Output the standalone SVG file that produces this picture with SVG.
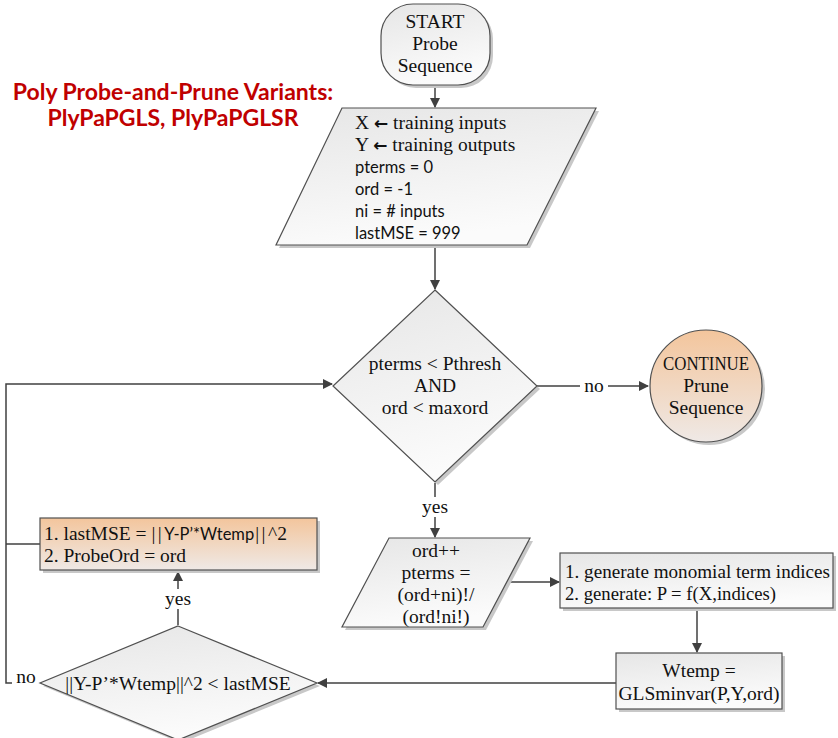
<svg xmlns="http://www.w3.org/2000/svg" width="838" height="738" viewBox="0 0 838 738">
  <defs>
    <linearGradient id="gray" x1="0" y1="0" x2="0.3" y2="1">
      <stop offset="0" stop-color="#e6e6e6"/>
      <stop offset="1" stop-color="#fbfbfb"/>
    </linearGradient>
    <linearGradient id="orange" x1="0" y1="0" x2="0" y2="1">
      <stop offset="0" stop-color="#f3c59c"/>
      <stop offset="1" stop-color="#efe9e6"/>
    </linearGradient>
    <marker id="arr" viewBox="0 0 10 10" refX="9" refY="5" markerWidth="10" markerHeight="10" markerUnits="userSpaceOnUse" orient="auto">
      <path d="M0,0 L10,5 L0,10 z" fill="#404040"/>
    </marker>
  </defs>
  <style>
    .shape { stroke: #505050; stroke-width: 1.2; }
    .shadow { fill: #c8c8c8; stroke: none; }
    .serif { font-family: "Liberation Serif", "DejaVu Serif", serif; font-size: 19.5px; fill: #111; }
    .sans { font-family: Lato, "Liberation Sans", sans-serif; font-size: 16.5px; fill: #111; }
    .arrowglyph { font-family: "DejaVu Sans", sans-serif; font-size: 17px; font-weight: bold; }
    .title { font-family: Lato, "Liberation Sans", sans-serif; font-size: 23px; font-weight: bold; fill: #c00000; }
    .line { stroke: #404040; stroke-width: 1.5; fill: none; }
    .mid { text-anchor: middle; }
  </style>

  <rect width="838" height="738" fill="#ffffff"/>

  <!-- heading -->
  <g id="title">
    <text class="title mid" x="173" y="100">Poly Probe-and-Prune Variants:</text>
    <text class="title mid" x="173" y="126">PlyPaPGLS, PlyPaPGLSR</text>
  </g>

  <!-- connectors -->
  <g id="connectors">
    <line class="line" x1="435" y1="86" x2="435" y2="107" marker-end="url(#arr)"/>
    <line class="line" x1="435" y1="246" x2="435" y2="289" marker-end="url(#arr)"/>
    <line class="line" x1="537" y1="386" x2="648" y2="386" marker-end="url(#arr)"/>
    <line class="line" x1="435" y1="483" x2="435" y2="537" marker-end="url(#arr)"/>
    <line class="line" x1="507" y1="582" x2="559" y2="582" marker-end="url(#arr)"/>
    <line class="line" x1="697" y1="609" x2="697" y2="652" marker-end="url(#arr)"/>
    <line class="line" x1="616" y1="683" x2="318" y2="683" marker-end="url(#arr)"/>
    <line class="line" x1="178" y1="625" x2="178" y2="572" marker-end="url(#arr)"/>
    <polyline class="line" points="40,683 6,683 6,384 332,384" marker-end="url(#arr)"/>
    <line class="line" x1="6" y1="544" x2="40" y2="544"/>
    <!-- branch labels -->
    <rect x="580" y="376" width="28" height="18" fill="#fff"/>
    <text class="serif mid" x="594" y="392">no</text>
    <rect x="417" y="497" width="38" height="20" fill="#fff"/>
    <text class="serif mid" x="435" y="513">yes</text>
    <rect x="159" y="589" width="38" height="20" fill="#fff"/>
    <text class="serif mid" x="178" y="605">yes</text>
    <rect x="12" y="667" width="28" height="18" fill="#fff"/>
    <text class="serif mid" x="26" y="683">no</text>
  </g>

  <!-- start terminator -->
  <g id="start">
    <rect class="shadow" x="384" y="7" width="109" height="81" rx="32"/>
    <rect class="shape" x="381" y="4" width="109" height="81" rx="32" fill="url(#gray)"/>
    <text class="serif mid" x="435" y="28">START</text>
    <text class="serif mid" x="435" y="50">Probe</text>
    <text class="serif mid" x="435" y="72">Sequence</text>
  </g>

  <!-- initialisation input block -->
  <g id="init">
    <polygon class="shadow" points="345,111 599,111 530,248 279,248"/>
    <polygon class="shape" points="342,108 596,108 527,245 276,245" fill="url(#gray)"/>
    <text class="serif" x="355" y="129">X <tspan class="arrowglyph">←</tspan> training inputs</text>
    <text class="serif" x="355" y="151">Y <tspan class="arrowglyph">←</tspan> training outputs</text>
    <text class="sans" x="355" y="173">pterms = 0</text>
    <text class="sans" x="355" y="195">ord = -1</text>
    <text class="sans" x="355" y="217">ni = # inputs</text>
    <text class="sans" x="355" y="239">lastMSE = 999</text>
  </g>

  <!-- loop condition -->
  <g id="cond">
    <polygon class="shadow" points="438,293 540,389 438,485 336,389"/>
    <polygon class="shape" points="435,290 537,386 435,482 333,386" fill="url(#gray)"/>
    <text class="serif mid" x="435" y="370">pterms &lt; Pthresh</text>
    <text class="serif mid" x="435" y="392">AND</text>
    <text class="serif mid" x="435" y="414">ord &lt; maxord</text>
  </g>

  <!-- continue connector -->
  <g id="continue">
    <circle class="shadow" cx="709" cy="389" r="56"/>
    <circle class="shape" cx="706" cy="386" r="56" fill="url(#orange)"/>
    <text class="serif mid" x="706" y="370" textLength="86" lengthAdjust="spacingAndGlyphs">CONTINUE</text>
    <text class="serif mid" x="706" y="392">Prune</text>
    <text class="serif mid" x="706" y="414">Sequence</text>
  </g>

  <!-- order increment block -->
  <g id="incr">
    <polygon class="shadow" points="392,541 533,541 486,630 345,630"/>
    <polygon class="shape" points="389,538 530,538 483,627 342,627" fill="url(#gray)"/>
    <text class="serif mid" x="436" y="557">ord++</text>
    <text class="serif mid" x="436" y="579">pterms =</text>
    <text class="serif mid" x="436" y="601">(ord+ni)!/</text>
    <text class="serif mid" x="436" y="623">(ord!ni!)</text>
  </g>

  <!-- term generation -->
  <g id="generate">
    <rect class="shadow" x="563" y="556" width="273" height="55"/>
    <rect class="shape" x="560" y="553" width="273" height="55" fill="url(#gray)"/>
    <text class="serif" x="565" y="578" textLength="265" lengthAdjust="spacingAndGlyphs">1. generate monomial term indices</text>
    <text class="serif" x="565" y="600" textLength="211" lengthAdjust="spacingAndGlyphs">2. generate:  P = f(X,indices)</text>
  </g>

  <!-- weight solve -->
  <g id="wtemp">
    <rect class="shadow" x="619" y="656" width="166" height="56"/>
    <rect class="shape" x="616" y="653" width="166" height="56" fill="url(#gray)"/>
    <text class="serif mid" x="699" y="677">Wtemp =</text>
    <text class="serif mid" x="699" y="700">GLSminvar(P,Y,ord)</text>
  </g>

  <!-- error check -->
  <g id="check">
    <polygon class="shadow" points="181,629 320,686 181,743 43,686"/>
    <polygon class="shape" points="178,626 317,683 178,740 40,683" fill="url(#gray)"/>
    <text class="serif mid" x="178" y="690">||Y-P’*Wtemp||^2 &lt; lastMSE</text>
  </g>

  <!-- record best -->
  <g id="record">
    <rect class="shadow" x="43" y="521" width="277" height="52"/>
    <rect class="shape" x="40" y="518" width="277" height="52" fill="url(#orange)"/>
    <text class="serif" x="44" y="540">1. lastMSE = <tspan letter-spacing="2.5">||</tspan><tspan class="sans" font-size="17.5">Y-P’*Wtemp</tspan><tspan letter-spacing="2.5" dx="1">||</tspan>^2</text>
    <text class="serif" x="44" y="562">2. ProbeOrd = ord</text>
  </g>
</svg>
